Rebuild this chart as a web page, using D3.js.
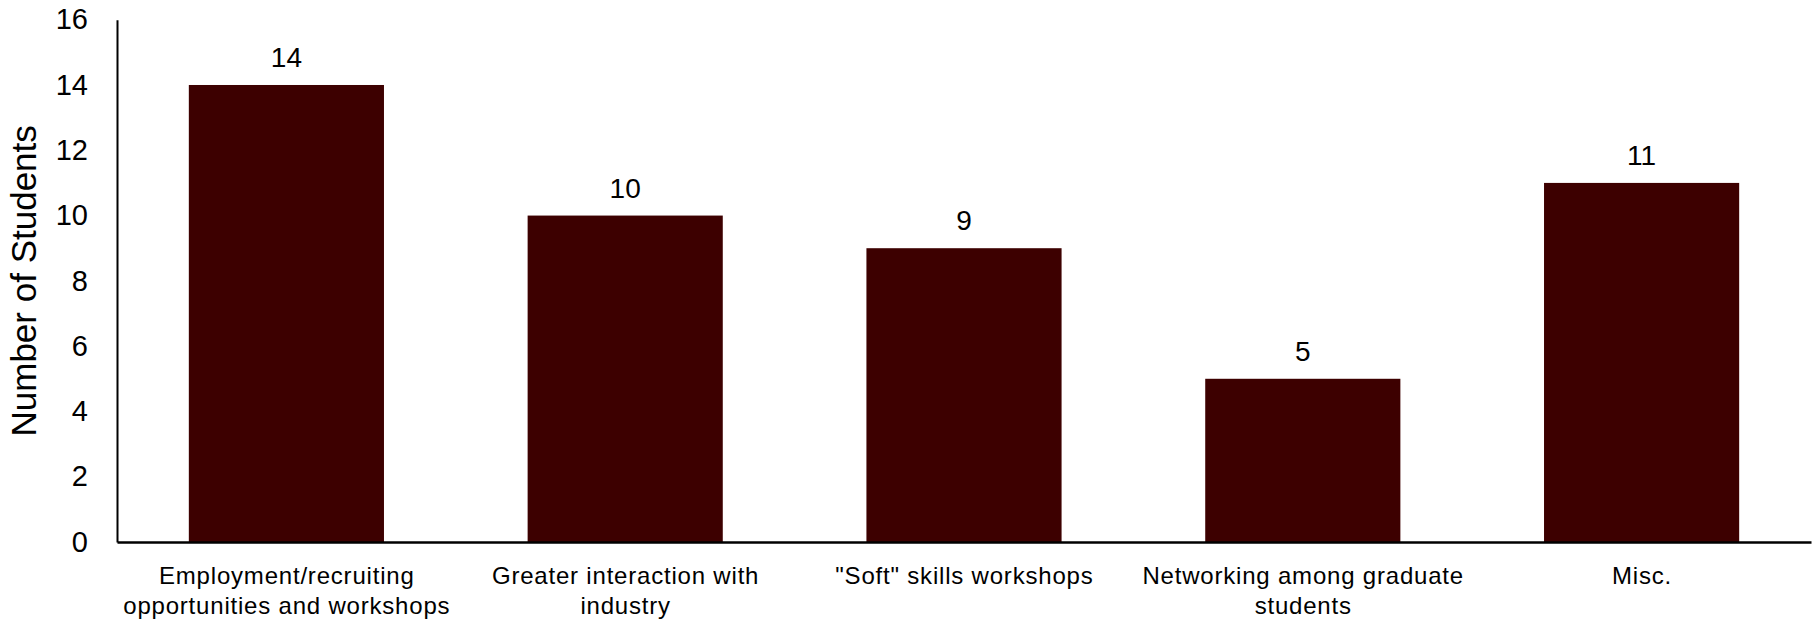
<!DOCTYPE html>
<html>
<head>
<meta charset="utf-8">
<script src="https://cdn.jsdelivr.net/npm/d3@7"></script>
<style>
  html, body { margin: 0; padding: 0; background: #fff; }
  svg { display: block; }
</style>
</head>
<body>
<svg id="chart" width="1817" height="620"></svg>
<script>
const categories = [
  ["Employment/recruiting", "opportunities and workshops"],
  ["Greater interaction with", "industry"],
  ["\"Soft\" skills workshops"],
  ["Networking among graduate", "students"],
  ["Misc."]
];
const values = [14, 10, 9, 5, 11];
const yTicks = [0, 2, 4, 6, 8, 10, 12, 14, 16];
const yTitle = "Number of Students";

(function () {
const svg = d3.select("#chart");
const mLeft = 117, mRight = 1811, mTop = 19.7, mBottom = 542;
const font = "'Liberation Sans', Arial, sans-serif";

const x = d3.scaleBand()
  .domain(d3.range(values.length))
  .range([mLeft, mRight])
  .paddingInner(0.424)
  .paddingOuter(0.212);

const y = d3.scaleLinear().domain([0, 16]).range([mBottom, mTop]);

// bars
svg.append("g").selectAll("rect")
  .data(values)
  .join("rect")
  .attr("x", (d, i) => x(i))
  .attr("y", d => y(d))
  .attr("width", x.bandwidth())
  .attr("height", d => y(0) - y(d))
  .attr("fill", "#3d0000");

// data labels
svg.append("g").selectAll("text")
  .data(values)
  .join("text")
  .attr("x", (d, i) => x(i) + x.bandwidth() / 2)
  .attr("y", d => y(d) - 18)
  .attr("text-anchor", "middle")
  .attr("font-family", font)
  .attr("font-size", 28)
  .attr("fill", "#000")
  .text(d => d);

// y axis
const yAxis = d3.axisLeft(y).tickValues(yTicks).tickSize(0).tickPadding(29);
const gy = svg.append("g").attr("transform", `translate(${mLeft},0)`).call(yAxis);
gy.select(".domain").attr("stroke", "#000").attr("stroke-width", 2);
gy.selectAll("text").attr("font-family", font).attr("font-size", 29).attr("fill", "#000");

// x axis
const xAxis = d3.axisBottom(x).tickSize(0).tickFormat(() => "");
const gx = svg.append("g").attr("transform", `translate(0,${mBottom})`).call(xAxis);
gx.select(".domain").attr("stroke", "#000").attr("stroke-width", 2.5);

// category labels (multi-line)
const catG = svg.append("g");
categories.forEach((lines, i) => {
  const cx = x(i) + x.bandwidth() / 2;
  const t = catG.append("text")
    .attr("y", 584)
    .attr("text-anchor", "middle")
    .attr("font-family", font)
    .attr("font-size", 24)
    .attr("letter-spacing", "0.8px")
    .attr("fill", "#000");
  lines.forEach((ln, j) => {
    t.append("tspan")
      .attr("x", cx + 0.4)
      .attr("dy", j === 0 ? 0 : 30)
      .text(ln);
  });
});

// y title
svg.append("text")
  .attr("transform", `translate(36,${(mTop + mBottom) / 2}) rotate(-90)`)
  .attr("text-anchor", "middle")
  .attr("font-family", font)
  .attr("font-size", 35)
  .attr("fill", "#000")
  .text(yTitle);
})();
</script>
</body>
</html>
